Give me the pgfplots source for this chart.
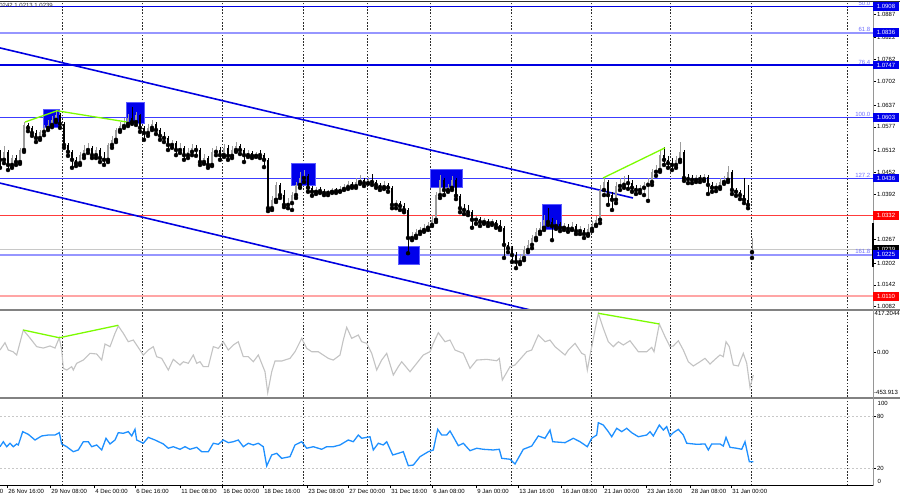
\documentclass[border=0pt]{standalone}
\usepackage{pgfplots}
\pgfplotsset{compat=1.18}
\usepackage{pgfplotstable}
\usepackage{fontspec}
\setmainfont{Liberation Sans}

\definecolor{chanblue}{RGB}{0,0,225}
\definecolor{lvlblue}{RGB}{60,60,255}
\definecolor{ltblue}{RGB}{150,150,255}
\definecolor{fibtxt}{RGB}{110,110,255}
\definecolor{lvlred}{RGB}{255,60,60}
\definecolor{ltred}{RGB}{255,165,165}
\definecolor{upgray}{RGB}{155,155,155}
\definecolor{ccigray}{RGB}{195,195,195}
\definecolor{rsiblue}{RGB}{30,144,255}
\definecolor{divgreen}{RGB}{124,252,0}
\definecolor{sepgray}{RGB}{130,130,130}
\definecolor{scalegray}{RGB}{150,150,150}
\definecolor{boxblue}{RGB}{0,0,235}
\definecolor{boxedge}{RGB}{90,90,255}
\definecolor{gridc}{RGB}{45,45,45}
\definecolor{curgray}{RGB}{200,200,200}

\pgfplotstableread{
x o h l c
0 1.0497 1.0513 1.0464 1.0486
4 1.0486 1.0524 1.0477 1.0508
8 1.0508 1.0513 1.0458 1.0472
12 1.0472 1.0499 1.0464 1.0491
16 1.0491 1.0499 1.0472 1.0480
20 1.0480 1.0519 1.0475 1.0513
24 1.0513 1.0590 1.0508 1.0582
28 1.0582 1.0587 1.0565 1.0574
32 1.0574 1.0579 1.0552 1.0560
36 1.0560 1.0568 1.0535 1.0546
40 1.0546 1.0568 1.0541 1.0563
44 1.0563 1.0582 1.0554 1.0574
48 1.0574 1.0596 1.0568 1.0582
52 1.0582 1.0607 1.0576 1.0596
56 1.0596 1.0623 1.0590 1.0609
60 1.0609 1.0615 1.0574 1.0585
64 1.0585 1.0590 1.0519 1.0527
68 1.0527 1.0532 1.0497 1.0508
72 1.0508 1.0513 1.0464 1.0486
76 1.0486 1.0494 1.0469 1.0477
80 1.0477 1.0508 1.0472 1.0499
84 1.0499 1.0527 1.0491 1.0513
88 1.0513 1.0532 1.0505 1.0519
92 1.0519 1.0524 1.0491 1.0499
96 1.0499 1.0521 1.0491 1.0513
100 1.0513 1.0519 1.0480 1.0491
104 1.0491 1.0508 1.0472 1.0486
108 1.0486 1.0532 1.0480 1.0527
112 1.0527 1.0552 1.0519 1.0541
116 1.0541 1.0574 1.0535 1.0568
120 1.0568 1.0590 1.0563 1.0579
124 1.0579 1.0601 1.0574 1.0585
128 1.0585 1.0612 1.0579 1.0601
132 1.0601 1.0631 1.0585 1.0590
136 1.0590 1.0618 1.0582 1.0609
140 1.0609 1.0612 1.0563 1.0574
144 1.0574 1.0579 1.0541 1.0560
148 1.0560 1.0585 1.0552 1.0574
152 1.0574 1.0596 1.0568 1.0585
156 1.0585 1.0590 1.0557 1.0568
160 1.0568 1.0574 1.0541 1.0552
164 1.0552 1.0563 1.0535 1.0546
168 1.0546 1.0552 1.0513 1.0527
172 1.0527 1.0541 1.0519 1.0532
176 1.0532 1.0538 1.0499 1.0513
180 1.0513 1.0532 1.0505 1.0519
184 1.0519 1.0524 1.0486 1.0499
188 1.0499 1.0519 1.0491 1.0508
192 1.0508 1.0530 1.0499 1.0519
196 1.0519 1.0527 1.0497 1.0513
200 1.0513 1.0519 1.0472 1.0480
204 1.0480 1.0502 1.0475 1.0491
208 1.0491 1.0497 1.0464 1.0472
212 1.0472 1.0519 1.0469 1.0508
216 1.0508 1.0524 1.0499 1.0513
220 1.0513 1.0521 1.0486 1.0499
224 1.0499 1.0530 1.0494 1.0519
228 1.0519 1.0527 1.0486 1.0497
232 1.0497 1.0524 1.0491 1.0513
236 1.0513 1.0535 1.0508 1.0524
240 1.0524 1.0530 1.0502 1.0513
244 1.0513 1.0519 1.0480 1.0499
248 1.0499 1.0513 1.0494 1.0505
252 1.0505 1.0510 1.0491 1.0497
256 1.0497 1.0508 1.0494 1.0502
260 1.0502 1.0513 1.0491 1.0499
264 1.0499 1.0505 1.0466 1.0486
268 1.0486 1.0491 1.0345 1.0353
272 1.0353 1.0387 1.0348 1.0376
276 1.0376 1.0425 1.0370 1.0417
280 1.0417 1.0422 1.0381 1.0389
284 1.0389 1.0403 1.0356 1.0362
288 1.0362 1.0381 1.0353 1.0367
292 1.0367 1.0398 1.0348 1.0389
296 1.0389 1.0425 1.0381 1.0417
300 1.0417 1.0453 1.0409 1.0436
304 1.0436 1.0458 1.0425 1.0442
308 1.0442 1.0447 1.0398 1.0409
312 1.0409 1.0414 1.0387 1.0398
316 1.0398 1.0411 1.0392 1.0403
320 1.0403 1.0411 1.0395 1.0400
324 1.0400 1.0406 1.0389 1.0395
328 1.0395 1.0403 1.0389 1.0398
332 1.0398 1.0409 1.0395 1.0403
336 1.0403 1.0409 1.0395 1.0400
340 1.0400 1.0414 1.0398 1.0406
344 1.0406 1.0420 1.0403 1.0411
348 1.0411 1.0428 1.0406 1.0420
352 1.0420 1.0425 1.0409 1.0414
356 1.0414 1.0436 1.0409 1.0425
360 1.0425 1.0444 1.0420 1.0431
364 1.0431 1.0436 1.0414 1.0422
368 1.0422 1.0439 1.0420 1.0431
372 1.0431 1.0447 1.0417 1.0425
376 1.0425 1.0431 1.0409 1.0417
380 1.0417 1.0422 1.0403 1.0411
384 1.0411 1.0428 1.0406 1.0417
388 1.0417 1.0422 1.0398 1.0409
392 1.0409 1.0414 1.0353 1.0362
396 1.0362 1.0376 1.0353 1.0367
400 1.0367 1.0373 1.0348 1.0359
404 1.0359 1.0367 1.0342 1.0348
408 1.0348 1.0353 1.0229 1.0271
412 1.0271 1.0288 1.0265 1.0277
416 1.0277 1.0296 1.0271 1.0288
420 1.0288 1.0301 1.0282 1.0293
424 1.0293 1.0310 1.0288 1.0299
428 1.0299 1.0315 1.0293 1.0307
432 1.0307 1.0334 1.0304 1.0321
436 1.0321 1.0398 1.0315 1.0389
440 1.0389 1.0444 1.0381 1.0431
444 1.0431 1.0436 1.0389 1.0403
448 1.0403 1.0420 1.0398 1.0409
452 1.0409 1.0442 1.0403 1.0431
456 1.0431 1.0436 1.0378 1.0387
460 1.0387 1.0392 1.0342 1.0353
464 1.0353 1.0365 1.0337 1.0348
468 1.0348 1.0362 1.0334 1.0342
472 1.0342 1.0348 1.0299 1.0321
476 1.0321 1.0331 1.0310 1.0323
480 1.0323 1.0329 1.0304 1.0315
484 1.0315 1.0326 1.0310 1.0318
488 1.0318 1.0323 1.0304 1.0312
492 1.0312 1.0323 1.0307 1.0315
496 1.0315 1.0321 1.0299 1.0307
500 1.0307 1.0321 1.0293 1.0299
504 1.0299 1.0304 1.0216 1.0252
508 1.0252 1.0260 1.0232 1.0243
512 1.0243 1.0249 1.0205 1.0224
516 1.0224 1.0232 1.0188 1.0205
520 1.0205 1.0227 1.0199 1.0216
524 1.0216 1.0249 1.0210 1.0238
528 1.0238 1.0265 1.0232 1.0252
532 1.0252 1.0279 1.0243 1.0271
536 1.0271 1.0299 1.0265 1.0288
540 1.0288 1.0315 1.0282 1.0299
544 1.0299 1.0334 1.0293 1.0321
548 1.0321 1.0353 1.0307 1.0315
552 1.0315 1.0326 1.0265 1.0304
556 1.0304 1.0321 1.0296 1.0310
560 1.0310 1.0315 1.0290 1.0299
564 1.0299 1.0312 1.0293 1.0301
568 1.0301 1.0310 1.0288 1.0296
572 1.0296 1.0315 1.0293 1.0304
576 1.0304 1.0310 1.0282 1.0290
580 1.0290 1.0304 1.0282 1.0293
584 1.0293 1.0299 1.0271 1.0282
588 1.0282 1.0310 1.0277 1.0296
592 1.0296 1.0318 1.0290 1.0307
596 1.0307 1.0331 1.0304 1.0321
600 1.0321 1.0417 1.0312 1.0403
604 1.0403 1.0439 1.0389 1.0425
608 1.0425 1.0431 1.0362 1.0389
612 1.0389 1.0398 1.0348 1.0376
616 1.0376 1.0425 1.0367 1.0414
620 1.0414 1.0436 1.0403 1.0417
624 1.0417 1.0442 1.0409 1.0425
628 1.0425 1.0444 1.0406 1.0422
632 1.0422 1.0431 1.0398 1.0409
636 1.0409 1.0417 1.0392 1.0403
640 1.0403 1.0417 1.0395 1.0409
644 1.0409 1.0425 1.0389 1.0417
648 1.0417 1.0436 1.0373 1.0425
652 1.0425 1.0461 1.0417 1.0453
656 1.0453 1.0472 1.0442 1.0458
660 1.0458 1.0513 1.0453 1.0499
664 1.0499 1.0521 1.0472 1.0486
668 1.0486 1.0497 1.0464 1.0477
672 1.0477 1.0491 1.0458 1.0472
676 1.0472 1.0497 1.0464 1.0486
680 1.0486 1.0535 1.0480 1.0508
684 1.0508 1.0513 1.0428 1.0436
688 1.0436 1.0447 1.0422 1.0433
692 1.0433 1.0444 1.0422 1.0431
696 1.0431 1.0444 1.0425 1.0436
700 1.0436 1.0444 1.0425 1.0433
704 1.0433 1.0447 1.0428 1.0439
708 1.0439 1.0444 1.0392 1.0417
712 1.0417 1.0425 1.0398 1.0409
716 1.0409 1.0422 1.0400 1.0411
720 1.0411 1.0436 1.0406 1.0425
724 1.0425 1.0442 1.0420 1.0431
728 1.0431 1.0469 1.0425 1.0453
732 1.0453 1.0458 1.0392 1.0403
736 1.0403 1.0409 1.0387 1.0398
740 1.0398 1.0403 1.0378 1.0389
744 1.0389 1.0436 1.0367 1.0376
748 1.0376 1.0417 1.0353 1.0362
752 1.0232 1.0271 1.0216 1.0239
}\candles

\pgfplotstableread{
x v
0 20
5 94
8.3 20
13 3
16.7 -30
23.3 222
30 141
36.7 54
43.3 40
50 61
55 40
59.3 144
61.7 20
63.3 -165
66.7 -182
71.7 -148
73.3 -182
76.7 -114
83.3 -81
90 -13
96.7 -20
101.7 -81
105 81
110 54
115 189
118.3 263
123.3 189
128.3 104
133.3 121
140 20
143.3 -30
148.3 20
153.3 54
156.7 -47
161.7 -64
168.3 -182
173.3 -74
180 -131
183.3 -98
188.3 -114
193.3 -30
196.7 -114
200 -98
203.3 -148
208.3 -148
213.3 54
218.3 37
223.3 104
228.3 20
233.3 71
238.3 104
243.3 -47
248.3 -47
253.3 -98
258.3 -30
265 -199
267.7 -411
271.7 -199
275 -91
281.7 -91
290 -64
295 3
301.7 138
306.7 37
311.7 3
318.3 3
328.3 -64
333.3 -81
340 -30
343.3 121
346.7 249
351.7 138
358.3 172
361.7 104
366.7 88
371.7 -13
376.7 -182
381.7 -81
386.7 -13
393.3 -232
398.3 -148
401.7 -98
410 -199
416.7 -114
423.3 -30
430 3
433.3 88
438.3 195
445 104
450 121
455 20
463.3 -13
470 -165
476.7 -81
486.7 -74
496.7 -88
499.3 -64
502.3 -283
510 -148
515 -131
526.7 3
531.7 20
538.3 172
545 104
550 121
555 54
565 -30
568.3 20
575 88
581.7 -13
585 -30
587.3 -182
590.7 3
598.3 391
603.3 239
608.3 104
613.3 54
618.3 104
623.3 71
630 114
638.3 3
646.7 3
651.7 47
654 3
659.3 283
665 155
670 54
673.3 61
678.3 114
683.3 20
688.3 -98
693.3 -141
700 -98
705 -64
710 -121
715 -74
720 -30
723.3 -47
726 104
729.3 54
733.3 -131
738.3 -141
743.3 -13
746.7 -114
750 -357
753.3 -232
}\cci

\pgfplotstableread{
x v
0 45.1
3.3 50.9
6.7 45.1
10 49.1
13.3 45.1
16.7 48.3
18.3 47.1
22.7 62.6
28.3 59.5
35 52.9
41.7 57.6
48.3 58.7
55 58.7
59.3 61.4
61.7 48.3
66.7 45.1
73.3 39.3
78.3 41.3
83.3 50.9
88.3 50.9
91.7 45.1
96.7 47.1
101.7 41.3
106 54.9
110 48.3
115 52.9
118.3 61.4
123.3 60.7
128.3 62.6
131.7 57.6
135 65.3
136.7 52.9
143.3 49.1
148.3 56.0
155 52.9
163.3 48.3
168.3 43.3
173.3 45.1
180 42.1
185 45.1
190 42.1
196.7 44.4
201.7 39.3
208.3 39.3
213.3 49.1
218.3 47.9
223.3 52.9
228.3 49.8
233.3 50.9
238.3 52.9
243.3 45.1
248.3 49.1
253.3 47.1
258.3 49.1
263.3 45.1
266.7 22.7
271.7 35.5
276.7 37.4
281.7 31.6
290 33.5
295 47.1
301.7 50.9
306.7 43.3
313.3 45.1
321.7 42.1
326.7 45.1
333.3 45.1
340 47.1
348.3 52.9
353.3 50.9
358.3 58.7
361.7 54.9
370 56.7
373.3 41.3
378.3 49.1
383.3 47.1
386.7 50.9
392.7 35.5
398.3 37.4
403.3 39.3
408.3 23.0
413.3 23.8
420 33.5
428.3 39.3
433.3 41.3
437.7 65.3
441.7 58.7
446.7 58.7
450 63.4
453.3 56.7
458.3 46.3
463.3 49.1
470 40.5
476.7 43.3
483.3 42.1
493.3 41.3
499.3 42.1
501.7 31.6
510 30.5
515 25.0
523.3 42.1
531.7 45.9
538.3 57.6
545 54.9
550 64.5
552.7 50.9
565 49.8
573.3 54.9
580 50.9
587.3 45.1
591.7 54.9
596.7 58.7
598.3 73.0
603.3 70.3
608.3 62.6
611.7 56.7
616.7 66.5
621.7 62.6
626.7 66.5
631.7 61.4
638.3 56.7
646.7 58.7
650 62.6
653.3 57.6
659.3 70.3
663.3 64.5
666.7 68.4
670 57.6
673.3 61.4
678.3 65.3
683.3 58.7
686.7 49.1
696.7 47.9
705 48.3
708.3 41.3
711.7 48.3
720 48.3
723.3 45.9
726 56.0
730 44.4
736.7 43.3
741.7 42.1
745 50.9
749.3 27.7
753.3 27.7
}\rsi

\newcommand{\sm}{\fontsize{6bp}{7bp}\selectfont}

\tikzset{lbl/.style={anchor=west, minimum width=25.5bp, minimum height=8.6bp, inner sep=0pt, text=white, font=\sm}}

\pgfplotsset{
  mtpanel/.style={
    scale only axis, width=873bp, xmin=0, xmax=873, anchor=south west,
    axis line style={draw=none}, clip=true,
    xtick=\empty,
    extra x ticks={62,142,222,303,367,430,511,591,670,751,847},
    extra x tick labels={},
    extra x tick style={grid=major, tick style={draw=none}},
    major grid style={draw=gridc, line width=0.6bp, dash pattern=on 1.6bp off 1.6bp},
    ytick pos=right, yticklabel pos=right,
    tick align=outside, major tick length=3bp,
    tick style={draw=black, line width=0.5bp},
    yticklabel style={anchor=west, inner sep=0pt, xshift=0.8bp, font=\sm, text=black},
    /pgf/number format/assume math mode=true,
  },
  upc/.style={x filter/.expression={\thisrow{c}>=\thisrow{o} ? x : nan}},
  dnc/.style={x filter/.expression={\thisrow{c}<\thisrow{o} ? x : nan}},
}

\begin{document}
\begin{tikzpicture}[x=1bp,y=1bp]
\useasboundingbox (0,0) rectangle (900,500);
\fill[white] (0,0) rectangle (900,500);

% ---------------- price panel ----------------
\begin{axis}[mtpanel, at={(0bp,191.5bp)}, height=306.5bp, ymin=1.00769, ymax=1.09204,
  ytick={1.0887,1.0822,1.0762,1.0702,1.0637,1.0577,1.0512,1.0452,1.0392,1.0267,1.0202,1.0142,1.0082},
  yticklabels={1.0887,1.0822,1.0762,1.0702,1.0637,1.0577,1.0512,1.0452,1.0392,1.0267,1.0202,1.0142,1.0082}]
  % horizontal levels
  \addplot[curgray, line width=0.8bp] coordinates {(0,1.0239) (873,1.0239)};
  \addplot[chanblue, line width=1.8bp] coordinates {(0,1.0908) (873,1.0908)};
  \addplot[ltblue, line width=2bp] coordinates {(0,1.0836) (873,1.0836)};
  \addplot[chanblue, line width=1.8bp] coordinates {(0,1.0747) (873,1.0747)};
  \addplot[lvlblue, line width=0.8bp] coordinates {(0,1.0603) (873,1.0603)};
  \addplot[lvlblue, line width=0.8bp] coordinates {(0,1.0436) (873,1.0436)};
  \addplot[lvlred, line width=0.8bp] coordinates {(0,1.0332) (873,1.0332)};
  \addplot[ltblue, line width=2bp] coordinates {(0,1.0225) (873,1.0225)};
  \addplot[ltred, line width=2bp] coordinates {(0,1.0110) (873,1.0110)};
  % channel
  \addplot[chanblue, line width=1.6bp] coordinates {(0,1.0794) (633,1.0381)};
  \addplot[chanblue, line width=1.6bp] coordinates {(0,1.0422) (530,1.0073)};
  % boxes
  \addplot[fill=boxblue, draw=boxedge, line width=0.6bp] coordinates {(43,1.0576) (59,1.0576) (59,1.0626) (43,1.0626)} --cycle;
  \addplot[fill=boxblue, draw=boxedge, line width=0.6bp] coordinates {(126,1.0587) (144,1.0587) (144,1.0645) (126,1.0645)} --cycle;
  \addplot[fill=boxblue, draw=boxedge, line width=0.6bp] coordinates {(291,1.0417) (315,1.0417) (315,1.0477) (291,1.0477)} --cycle;
  \addplot[fill=boxblue, draw=boxedge, line width=0.6bp] coordinates {(398,1.0199) (419,1.0199) (419,1.0249) (398,1.0249)} --cycle;
  \addplot[fill=boxblue, draw=boxedge, line width=0.6bp] coordinates {(430,1.0411) (462,1.0411) (462,1.0461) (430,1.0461)} --cycle;
  \addplot[fill=boxblue, draw=boxedge, line width=0.6bp] coordinates {(542,1.0296) (561,1.0296) (561,1.0365) (542,1.0365)} --cycle;
  % candles: wicks
  \addplot[upc, only marks, mark=none, error bars/.cd, y dir=plus, y explicit, error mark=none,
    error bar style={upgray, line width=0.8bp}]
    table[x=x, y=l, y error plus expr={\thisrow{h}-\thisrow{l}}] \candles;
  \addplot[dnc, only marks, mark=none, error bars/.cd, y dir=plus, y explicit, error mark=none,
    error bar style={black, line width=0.8bp}]
    table[x=x, y=l, y error plus expr={\thisrow{h}-\thisrow{l}}] \candles;
  % bodies
  \addplot[upc, only marks, mark=none, error bars/.cd, y dir=plus, y explicit, error mark=none,
    error bar style={upgray, line width=2.4bp}]
    table[x=x, y=o, y error plus expr={\thisrow{c}-\thisrow{o}}] \candles;
  \addplot[dnc, only marks, mark=none, error bars/.cd, y dir=plus, y explicit, error mark=none,
    error bar style={black, line width=2.4bp}]
    table[x=x, y=c, y error plus expr={\thisrow{o}-\thisrow{c}}] \candles;
  % divergence lines
  \addplot[divgreen, line width=1.3bp] coordinates {(25,1.0590) (57,1.0621) (127,1.0590)};
  \addplot[divgreen, line width=1.3bp] coordinates {(603,1.0436) (665,1.0519)};
  % fibo texts
  \node[anchor=south east, inner sep=0.5bp, text=fibtxt, font=\sm] at (axis cs:871,1.0908) {50.0};
  \node[anchor=south east, inner sep=0.5bp, text=fibtxt, font=\sm] at (axis cs:871,1.0836) {61.8};
  \node[anchor=south east, inner sep=0.5bp, text=fibtxt, font=\sm] at (axis cs:871,1.0747) {76.4};
  \node[anchor=south east, inner sep=0.5bp, text=fibtxt, font=\sm] at (axis cs:871,1.0603) {100.0};
  \node[anchor=south east, inner sep=0.5bp, text=fibtxt, font=\sm] at (axis cs:871,1.0436) {127.2};
  \node[anchor=south east, inner sep=0.5bp, text=fibtxt, font=\sm] at (axis cs:871,1.0225) {161.8};
  % label anchors
  \coordinate (B1) at (axis cs:873,1.0908);
  \coordinate (B2) at (axis cs:873,1.0836);
  \coordinate (B3) at (axis cs:873,1.0747);
  \coordinate (B4) at (axis cs:873,1.0603);
  \coordinate (B5) at (axis cs:873,1.0436);
  \coordinate (B6) at (axis cs:873,1.0332);
  \coordinate (B7) at (axis cs:873,1.0239);
  \coordinate (B8) at (axis cs:873,1.0225);
  \coordinate (B9) at (axis cs:873,1.0110);
\end{axis}

% ---------------- CCI panel ----------------
\begin{axis}[mtpanel, at={(0bp,103bp)}, height=86.3bp, ymin=-453.913, ymax=417.2044,
  ytick={0}, yticklabels={0.00}]
  \addplot[ccigray, line width=1.1bp] table[x=x, y=v] \cci;
  \addplot[divgreen, line width=1.3bp] coordinates {(23.3,222) (59.3,144) (118.3,270)};
  \addplot[divgreen, line width=1.3bp] coordinates {(598.3,391) (659.3,283)};
\end{axis}

% ---------------- RSI panel ----------------
\begin{axis}[mtpanel, at={(0bp,14.5bp)}, height=86bp, ymin=0, ymax=100,
  ytick={20,80}, yticklabels={20,80},
  xtick={7,50,94,135,180,222,263,307,348,390,432,476,518,561,603,646,690,731},
  xticklabels={26 Nov 16:00, 29 Nov 08:00, 4 Dec 00:00, 6 Dec 16:00, 11 Dec 08:00, 16 Dec 00:00, 18 Dec 16:00, 23 Dec 08:00, 27 Dec 00:00, 31 Dec 16:00, 6 Jan 08:00, 9 Jan 00:00, 13 Jan 16:00, 16 Jan 08:00, 21 Jan 00:00, 23 Jan 16:00, 28 Jan 08:00, 31 Jan 00:00},
  xtick pos=bottom, xticklabel pos=bottom,
  xticklabel style={anchor=north west, inner sep=0pt, xshift=1.2bp, yshift=-1bp, font=\sm, text=black}]
  \addplot[curgray, line width=0.6bp, dash pattern=on 2bp off 2bp] coordinates {(0,80) (873,80)};
  \addplot[curgray, line width=0.6bp, dash pattern=on 2bp off 2bp] coordinates {(0,20) (873,20)};
  \addplot[rsiblue, line width=1.3bp] table[x=x, y=v] \rsi;
\end{axis}

% ---------------- frame, separators, scale ----------------
\draw[gridc, line width=0.8bp] (0,498.3) -- (900,498.3);
\draw[sepgray, line width=2bp] (0,190.3) -- (900,190.3);
\draw[sepgray, line width=2bp] (0,102.1) -- (900,102.1);
\draw[black, line width=0.7bp] (0,14.2) -- (873,14.2);
\draw[scalegray, line width=0.9bp] (873,14.2) -- (873,498.3);
\draw[black, line width=1.6bp] (873,233) -- (873,277);

% boxed price labels
\node[lbl, fill=boxblue] at (B1) {1.0908};
\node[lbl, fill=boxblue] at (B2) {1.0836};
\node[lbl, fill=boxblue] at (B3) {1.0747};
\node[lbl, fill=boxblue] at (B4) {1.0603};
\node[lbl, fill=boxblue] at (B5) {1.0436};
\node[lbl, fill=red] at (B6) {1.0332};
\node[lbl, fill=black] at (B7) {1.0239};
\node[lbl, fill=boxblue] at (B8) {1.0225};
\node[lbl, fill=red] at (B9) {1.0110};

% indicator scale extremes
\node[anchor=west, inner sep=0pt, font=\sm] at (874.5,186.5) {417.2044};
\node[anchor=west, inner sep=0pt, font=\sm] at (874,108) {-453.913};
\node[anchor=west, inner sep=0pt, font=\sm] at (877.5,96.7) {100};
\node[anchor=west, inner sep=0pt, font=\sm] at (877.5,18.3) {0};

% cut-off texts at left edge
\node[anchor=east, inner sep=0pt, font=\sm, text=gridc] at (53,494) {EURUSD,H4 1.0225 1.0242 1.0213 1.0239};
\node[anchor=north east, inner sep=0pt, font=\sm, text=black] at (3.5,10.5) {22 Nov 00:00};
\end{tikzpicture}
\end{document}
